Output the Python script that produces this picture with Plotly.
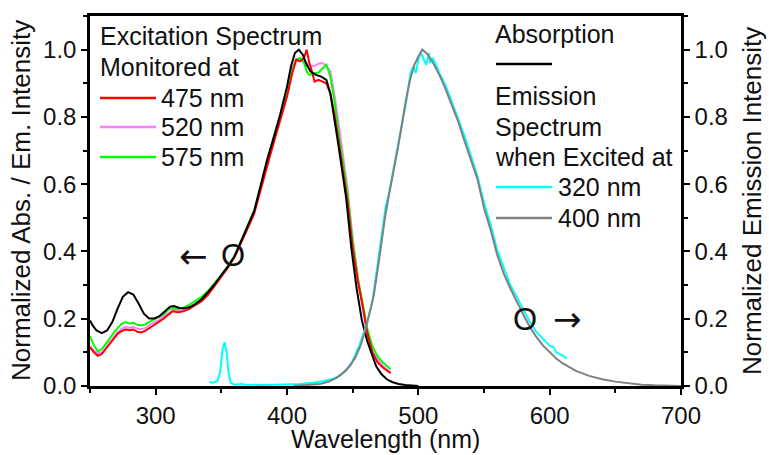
import plotly.graph_objects as go

# ---- Absorption spectrum (black) ----
abs_wl = [250, 252, 255, 259, 263, 267, 271, 275, 279, 283, 287, 291, 295, 299, 303,
          307, 311, 314, 318, 322, 326, 330, 335, 340, 345, 350, 355, 360, 365, 370,
          375, 380, 385, 390, 395, 400, 403, 406, 409, 412, 415, 418, 422, 426, 430,
          433, 436, 439, 442, 445, 449, 453, 457, 461, 465, 468, 472, 476, 480, 485,
          490, 495, 500]
abs_val = [0.195, 0.180, 0.165, 0.157, 0.165, 0.190, 0.230, 0.265, 0.279, 0.272, 0.245,
           0.215, 0.201, 0.201, 0.208, 0.222, 0.236, 0.238, 0.232, 0.231, 0.234, 0.243,
           0.258, 0.280, 0.303, 0.330, 0.355, 0.385, 0.428, 0.475, 0.520, 0.595, 0.675,
           0.740, 0.810, 0.890, 0.950, 0.990, 1.000, 0.985, 0.955, 0.935, 0.925, 0.920,
           0.910, 0.870, 0.800, 0.720, 0.640, 0.560, 0.410, 0.290, 0.195, 0.135, 0.090,
           0.058, 0.035, 0.020, 0.012, 0.006, 0.003, 0.001, 0.000]

# ---- Excitation spectra, monitored at 475 / 520 / 575 nm ----
exc_wl = [250, 253, 256, 259, 262, 265, 268, 271, 274, 277, 280, 283, 286, 289, 292,
          295, 298, 302, 306, 310, 313, 317, 321, 325, 330, 335, 340, 345, 350, 355,
          360, 365, 370, 375, 380, 385, 390, 395, 400, 404, 407, 410, 413, 415, 417,
          419, 421, 424, 427, 430, 433, 436, 439, 442, 446, 450, 454, 458, 461, 465,
          469, 473, 477, 479]
exc475 = [0.115, 0.100, 0.090, 0.095, 0.110, 0.125, 0.140, 0.155, 0.163, 0.168, 0.166,
          0.168, 0.161, 0.159, 0.164, 0.172, 0.180, 0.188, 0.200, 0.213, 0.222, 0.219,
          0.222, 0.228, 0.240, 0.252, 0.272, 0.298, 0.325, 0.352, 0.383, 0.424, 0.468,
          0.512, 0.580, 0.655, 0.725, 0.790, 0.860, 0.930, 0.970, 0.965, 0.975, 1.000,
          0.960, 0.935, 0.905, 0.910, 0.905, 0.900, 0.870, 0.810, 0.735, 0.660, 0.550,
          0.410, 0.310, 0.230, 0.160, 0.100, 0.070, 0.055, 0.042, 0.038]
exc520 = [0.120, 0.105, 0.097, 0.100, 0.115, 0.130, 0.145, 0.160, 0.170, 0.175, 0.173,
          0.175, 0.171, 0.169, 0.172, 0.180, 0.188, 0.195, 0.207, 0.218, 0.226, 0.225,
          0.228, 0.234, 0.245, 0.257, 0.277, 0.300, 0.328, 0.355, 0.386, 0.428, 0.474,
          0.520, 0.592, 0.670, 0.740, 0.805, 0.880, 0.945, 0.970, 0.975, 0.965, 0.958,
          0.955, 0.950, 0.952, 0.958, 0.960, 0.952, 0.935, 0.870, 0.790, 0.710, 0.590,
          0.440, 0.320, 0.225, 0.160, 0.105, 0.078, 0.060, 0.047, 0.040]
exc575 = [0.148, 0.120, 0.103, 0.110, 0.125, 0.142, 0.158, 0.172, 0.185, 0.190, 0.186,
          0.188, 0.182, 0.180, 0.183, 0.190, 0.196, 0.203, 0.213, 0.228, 0.232, 0.229,
          0.233, 0.240, 0.252, 0.265, 0.283, 0.305, 0.330, 0.357, 0.387, 0.430, 0.476,
          0.522, 0.592, 0.670, 0.742, 0.805, 0.880, 0.940, 0.970, 0.975, 0.960, 0.935,
          0.925, 0.928, 0.930, 0.932, 0.945, 0.955, 0.920, 0.850, 0.760, 0.680, 0.575,
          0.430, 0.320, 0.238, 0.172, 0.118, 0.088, 0.070, 0.058, 0.050]

# ---- Emission spectrum excited at 400 nm (grey) ----
em400_wl = [405, 415, 425, 432, 438, 443, 448, 452, 456, 460, 463, 466, 469, 472, 475,
            478, 481, 485, 488, 491, 494, 497, 500, 503, 506, 509, 512, 516, 520, 525,
            530, 535, 540, 545, 550, 555, 560, 565, 570, 575, 580, 585, 590, 595, 600,
            605, 610, 620, 630, 640, 650, 660, 670, 680, 690, 700]
em400 = [0.000, 0.002, 0.006, 0.013, 0.025, 0.040, 0.060, 0.085, 0.120, 0.170, 0.215,
         0.268, 0.345, 0.430, 0.510, 0.575, 0.635, 0.720, 0.790, 0.860, 0.915, 0.955,
         0.980, 1.000, 0.990, 0.975, 0.955, 0.925, 0.890, 0.840, 0.790, 0.730, 0.670,
         0.615, 0.530, 0.465, 0.390, 0.335, 0.290, 0.250, 0.212, 0.175, 0.145, 0.120,
         0.100, 0.082, 0.067, 0.045, 0.030, 0.020, 0.013, 0.008, 0.004, 0.002, 0.001,
         0.000]

# ---- Emission spectrum excited at 320 nm (cyan) ----
em320_wl = [341, 344, 347, 349, 351, 352.5, 354, 355.5, 357, 360, 365, 370, 375, 380,
            390, 400, 410, 420, 428, 435, 440, 445, 450, 455, 460, 465, 470, 475, 478,
            481, 485, 488, 491, 494, 496, 498, 500, 502, 504, 506, 508, 509, 511, 513,
            516, 520, 525, 530, 535, 540, 545, 550, 555, 560, 565, 570, 575, 580, 585,
            590, 595, 600, 603, 605, 610, 613]
em320 = [0.012, 0.010, 0.015, 0.040, 0.110, 0.130, 0.100, 0.040, 0.010, 0.004, 0.006,
         0.003, 0.004, 0.003, 0.004, 0.004, 0.006, 0.010, 0.015, 0.022, 0.030, 0.045,
         0.075, 0.120, 0.175, 0.250, 0.390, 0.530, 0.580, 0.640, 0.720, 0.780, 0.850,
         0.930, 0.950, 0.930, 0.970, 0.990, 0.970, 0.955, 0.990, 0.960, 0.975, 0.960,
         0.930, 0.900, 0.850, 0.800, 0.745, 0.685, 0.625, 0.545, 0.480, 0.405, 0.350,
         0.300, 0.265, 0.225, 0.190, 0.160, 0.140, 0.120, 0.115, 0.100, 0.090, 0.082]

x_ticks = [300, 400, 500, 600, 700]
y_ticks = [0.0, 0.2, 0.4, 0.6, 0.8, 1.0]

FONT = "Liberation Sans, Arial, sans-serif"
INK = "#111111"

W, H = 769, 455
L, R, T, B = 90, 88, 16, 69
PW, PH = W - L - R, H - T - B


def px(x):
    return (x - L) / PW


def py(y):
    return (H - B - y) / PH


fig = go.Figure()

lw = 2
fig.add_trace(go.Scatter(x=exc_wl, y=exc520, mode="lines", line=dict(color="#FF80FF", width=lw)))
fig.add_trace(go.Scatter(x=exc_wl, y=exc575, mode="lines", line=dict(color="#00FF00", width=lw)))
fig.add_trace(go.Scatter(x=exc_wl, y=exc475, mode="lines", line=dict(color="#FF0000", width=lw)))
fig.add_trace(go.Scatter(x=abs_wl, y=abs_val, mode="lines", line=dict(color="#000000", width=lw)))
fig.add_trace(go.Scatter(x=em320_wl, y=em320, mode="lines", yaxis="y2",
                         line=dict(color="#00FFFF", width=lw)))
fig.add_trace(go.Scatter(x=em400_wl, y=em400, mode="lines", yaxis="y2",
                         line=dict(color="#808080", width=lw)))

tickfont = dict(family=FONT, size=24, color=INK)
axis_common = dict(showline=True, linecolor="black", linewidth=2.5, showgrid=False,
                   zeroline=False, ticks="outside", tickcolor="black", tickwidth=2,
                   ticklen=6, tickfont=tickfont, automargin=False)

fig.update_layout(
    width=W, height=H,
    margin=dict(l=L, r=R, t=T, b=B),
    paper_bgcolor="white", plot_bgcolor="white",
    showlegend=False,
    xaxis=dict(range=[250, 700], tickvals=x_ticks, mirror=True,
               minor=dict(ticks="outside", dtick=50, tick0=250, ticklen=4,
                          tickwidth=2, tickcolor="black"),
               **axis_common),
    yaxis=dict(range=[0, 1.1], tickvals=y_ticks, tickformat=".1f",
               minor=dict(ticks="outside", dtick=0.1, tick0=0, ticklen=4,
                          tickwidth=2, tickcolor="black"),
               **axis_common),
    yaxis2=dict(range=[0, 1.1], tickvals=y_ticks, tickformat=".1f", overlaying="y",
                side="right",
                minor=dict(ticks="outside", dtick=0.1, tick0=0, ticklen=4,
                           tickwidth=2, tickcolor="black"),
                **axis_common),
)

annotations = []
shapes = []


def label(x, y, text, size=25, anchor="left", angle=0, family=FONT):
    annotations.append(dict(xref="paper", yref="paper", x=px(x), y=py(y), text=text,
                            showarrow=False, xanchor=anchor, yanchor="middle",
                            textangle=angle,
                            font=dict(family=family, size=size, color=INK)))


def sample(x0, x1, y, color):
    shapes.append(dict(type="line", xref="paper", yref="paper", x0=px(x0), x1=px(x1),
                       y0=py(y), y1=py(y), line=dict(color=color, width=2.5)))


# excitation legend block
label(98, 36, "Excitation Spectrum")
label(98, 67, "Monitored at")
for yy, name, col in [(98, "475 nm", "#FF0000"), (127, "520 nm", "#FF80FF"),
                      (157, "575 nm", "#00FF00")]:
    sample(100, 156, yy, col)
    label(159, yy, name)

# absorption / emission legend block
label(493, 34, "Absorption")
sample(496, 552, 64, "#000000")
label(493, 96, "Emission")
label(493, 127, "Spectrum")
label(493, 157, "when Excited at")
for yy, name, col in [(187, "320 nm", "#00FFFF"), (218, "400 nm", "#808080")]:
    sample(496, 552, yy, col)
    label(556, yy, name)

# axis-side markers
label(193, 256, "←", size=34, anchor="center", family="DejaVu Sans")
label(233, 255, "O", size=31, anchor="center")
label(525, 319, "O", size=31, anchor="center")
label(567, 319, "→", size=34, anchor="center", family="DejaVu Sans")

# axis titles
label(385, 439, "Wavelength (nm)", size=25, anchor="center")
label(21, 201, "Normalized Abs. / Em. Intensity", size=26, anchor="center", angle=-90)
label(752, 201, "Normalized Emission Intensity", size=26, anchor="center", angle=-90)

fig.update_layout(annotations=annotations, shapes=shapes)

fig.write_html("out.html")
